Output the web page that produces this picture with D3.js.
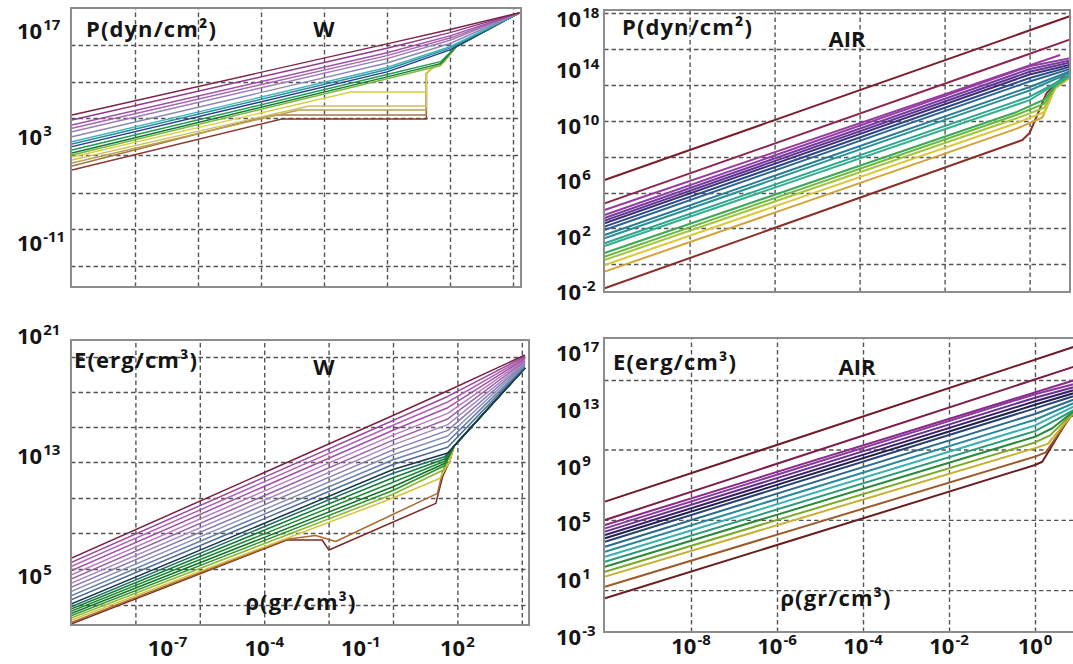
<!DOCTYPE html>
<html>
<head>
<meta charset="utf-8">
<script src="https://cdn.jsdelivr.net/npm/d3@7"></script>
<style>
  body { margin: 0; background: #ffffff; }
  svg text { font-family: "Open Sans", "DejaVu Sans", sans-serif; font-weight: 700; fill: #151515; }
</style>
</head>
<body>
<svg id="chart" width="1073" height="664"></svg>
<script>
// Every curve is a list of [log10(rho), log10(value)] vertices along one isotherm.

// ---- Tungsten (W): pressure, P(dyn/cm^2) ----
const wPressureCurves = [
  [[-10, 5.91], [0, 15.3], [2, 17.2], [4.2, 19.4]],
  [[-10, 5.25], [0, 14.72], [2, 16.78], [4.2, 19.4]],
  [[-10, 4.59], [0, 14.13], [2, 16.35], [4.2, 19.4]],
  [[-10, 4.15], [0, 13.75], [2, 16.07], [4.2, 19.4]],
  [[-10, 3.70], [0, 13.35], [2, 15.78], [4.2, 19.4]],
  [[-10, 3.04], [0, 12.77], [2, 15.35], [4.2, 19.4]],
  [[-10, 2.38], [0, 12.18], [2, 14.92], [4.2, 19.4]],
  [[-10, 2.08], [0, 11.92], [2, 14.73], [4.2, 19.4]],
  [[-10, 1.72], [0, 11.6], [2, 14.5], [4.2, 19.4]],
  [[-10, 1.28], [0, 11.25], [1.7, 12.95], [2.2, 14.95], [4.2, 19.4]],
  [[-10, 0.89], [0, 10.95], [1.7, 12.7], [2.2, 14.95], [4.2, 19.4]],
  [[-10, 0.62], [0, 10.7], [1.7, 12.45], [2.2, 14.95], [4.2, 19.4]],
  [[-10, 0.36], [-1.15, 8.94], [1.25, 8.94], [1.25, 11.4], [1.5, 12.3], [1.8, 12.9], [2.2, 14.95], [4.2, 19.4]],
  [[-10, -0.04], [-2.46, 7.1], [1.25, 7.1], [1.25, 11.4], [1.5, 12.3], [1.8, 12.9], [2.2, 14.95], [4.2, 19.4]],
  [[-10, -0.43], [-2.79, 6.57], [1.25, 6.57], [1.25, 11.4], [1.5, 12.3], [1.8, 12.9], [2.2, 14.95], [4.2, 19.4]],
  [[-10, -0.83], [-3.67, 5.91], [1.25, 5.91], [1.25, 11.4], [1.5, 12.3], [1.8, 12.9], [2.2, 14.95], [4.2, 19.4]],
  [[-10, -1.36], [-3.34, 5.38], [1.25, 5.38], [1.25, 11.4], [1.5, 12.3], [1.8, 12.9], [2.2, 14.95], [4.2, 19.4]]
];
const wPressureColors = [
  "#7b2346", "#8e3a8c", "#a24fa6", "#a865b0", "#9f7bb8", "#8a87b4", "#40b4bc", "#2a8a9a", "#1f3f8a",
  "#1f9a55", "#137a35", "#7ab83a", "#d8d040", "#cfc060", "#b8a050", "#a07840", "#8a3a30"
];
const wPressureTicks = [17, 3, -11];
const wPressureGrid = [15.15, 10.27, 5.51, 0.62, -4.4, -9.15, -14.04];

// ---- Air: pressure, P(dyn/cm^2) ----
const airPressureCurves = [
  [[-10, 6.09], [1.0, 17.97]],
  [[-10, 4.40], [1.0, 16.28]],
  [[-10, 3.92], [0.72, 15.11]],
  [[-10, 3.56], [0, 14.3], [1.0, 14.9]],
  [[-10, 3.34], [0, 14.1], [1.0, 14.75]],
  [[-10, 3.15], [0, 13.9], [1.0, 14.6]],
  [[-10, 2.96], [0, 13.7], [1.0, 14.45]],
  [[-10, 2.72], [0, 13.45], [1.0, 14.3]],
  [[-10, 2.48], [0, 13.2], [1.0, 14.15]],
  [[-10, 2.12], [0, 12.8], [1.0, 14.0]],
  [[-10, 1.88], [0, 12.55], [1.0, 13.9]],
  [[-10, 1.52], [0, 12.1], [0.5, 12.9], [1.0, 13.8]],
  [[-10, 1.32], [0, 11.85], [0.5, 12.8], [1.0, 13.75]],
  [[-10, 0.82], [-0.3, 11.0], [0.35, 11.9], [0.6, 12.9], [1.0, 13.7]],
  [[-10, 0.55], [-0.3, 10.8], [0.35, 11.6], [0.6, 12.85], [1.0, 13.7]],
  [[-10, 0.31], [-0.3, 10.55], [0.35, 11.3], [0.6, 12.8], [1.0, 13.65]],
  [[-10, -0.05], [-0.3, 10.2], [0.35, 11.0], [0.6, 12.75], [1.0, 13.65]],
  [[-10, -0.53], [-0.3, 9.8], [0.3, 10.6], [0.6, 12.7], [1.0, 13.6]],
  [[-10, -1.73], [-0.17, 8.97], [0, 9.48], [0.4, 12.37], [0.78, 13.5], [1.0, 13.6]]
];
const airPressureColors = [
  "#7a1e2e", "#8a2550", "#9a3a9e", "#8e40a6", "#7a3aa0", "#5e3590", "#3f2f78", "#2e4a86", "#2d6590",
  "#2a7d95", "#2a9198", "#2aa596", "#35b08a", "#3ea85a", "#6ab83e", "#a3c63a", "#d8c83a", "#d4a23a", "#8a3028"
];
const airPressureTicks = [18, 14, 10, 6, 2, -2];
const airPressureGrid = [18.14, 15.55, 12.95, 10.35, 7.75, 5.15, 2.62, 0.02];

// ---- Tungsten (W): internal energy, E(erg/cm^3) ----
const wEnergyCurves = [
  [[-10, 6.18], [0, 15.7], [1.7, 17.35], [4.1, 19.73]],
  [[-10, 5.90], [0, 15.37], [1.7, 16.97], [4.1, 19.65]],
  [[-10, 5.63], [0, 15.05], [1.7, 16.6], [4.1, 19.57]],
  [[-10, 5.35], [0, 14.72], [1.7, 16.22], [4.1, 19.5]],
  [[-10, 5.07], [0, 14.39], [1.7, 15.84], [4.1, 19.42]],
  [[-10, 4.79], [0, 14.06], [1.7, 15.47], [4.1, 19.34]],
  [[-10, 4.52], [0, 13.74], [1.7, 15.09], [4.1, 19.26]],
  [[-10, 4.24], [0, 13.41], [1.7, 14.71], [4.1, 19.18]],
  [[-10, 3.96], [0, 13.08], [1.7, 14.33], [4.1, 19.11]],
  [[-10, 3.68], [0, 12.75], [1.7, 13.96], [4.1, 19.03]],
  [[-10, 3.41], [0, 12.43], [1.7, 13.58], [4.1, 18.95]],
  [[-10, 3.13], [0, 12.1], [1.7, 13.2], [4.1, 18.87]],
  [[-10, 2.95], [0, 11.85], [1.6, 12.95], [1.9, 13.67], [4.1, 18.87]],
  [[-10, 2.80], [0, 11.55], [1.6, 12.8], [1.9, 13.67], [4.1, 18.87]],
  [[-10, 2.65], [0, 11.25], [1.6, 12.65], [1.9, 13.67], [4.1, 18.87]],
  [[-10, 2.50], [0, 10.95], [1.6, 12.5], [1.9, 13.67], [4.1, 18.87]],
  [[-10, 2.35], [0, 10.7], [1.6, 12.35], [1.9, 13.67], [4.1, 18.87]],
  [[-10, 2.20], [0, 10.45], [1.55, 12.05], [1.9, 13.67], [4.1, 18.87]],
  [[-10, 2.05], [0, 10.2], [1.45, 11.5], [1.75, 12.6], [1.9, 13.67], [4.1, 18.87]],
  [[-10, 1.90], [-3.3, 7.45], [-2.4, 7.7], [-1.78, 7.3], [1.38, 10.51], [1.54, 11.95], [1.75, 12.6], [1.9, 13.67], [4.1, 18.87]],
  [[-10, 1.80], [-3.3, 7.4], [-2.2, 7.4], [-1.99, 6.73], [1.33, 9.84], [1.54, 11.62], [1.75, 12.6], [1.9, 13.67], [4.1, 18.87]]
];
const wEnergyColors = [
  "#7a2040", "#9a4aa0", "#b060b0", "#a050a8", "#b878c0", "#9a60a8", "#a888c0", "#8a7ab0", "#8890b8",
  "#6a80a8", "#4a6a98", "#163650", "#1f6e62", "#137a35", "#1a8a30", "#0f7028", "#2a9228", "#8ab832",
  "#d4c43a", "#a86a32", "#7a2a22"
];
const wEnergyTicks = [21, 13, 5];
const wEnergyGrid = [19.6, 17.27, 14.93, 12.6, 10.2, 7.87, 5.47, 3.07];

// ---- Air: internal energy, E(erg/cm^3) ----
const airEnergyCurves = [
  [[-10, 6.53], [1.15, 17.68]],
  [[-10, 5.24], [1.15, 16.28]],
  [[-10, 4.89], [1.15, 15.3]],
  [[-10, 4.65], [0, 14.1], [1.15, 15.0]],
  [[-10, 4.42], [0, 13.85], [1.15, 14.8]],
  [[-10, 4.18], [0, 13.6], [1.15, 14.6]],
  [[-10, 3.95], [0, 13.35], [1.15, 14.4]],
  [[-10, 3.71], [0, 13.1], [1.15, 14.2]],
  [[-10, 3.36], [0, 12.7], [1.15, 14.0]],
  [[-10, 3.00], [0, 12.3], [1.15, 13.8]],
  [[-10, 2.65], [0, 11.9], [1.15, 13.6]],
  [[-10, 2.30], [0, 11.5], [0.5, 12.3], [1.15, 13.4]],
  [[-10, 1.95], [0, 11.1], [0.4, 11.7], [0.9, 12.9], [1.15, 13.3]],
  [[-10, 1.60], [0, 10.7], [0.35, 11.2], [0.9, 12.85], [1.15, 13.2]],
  [[-10, 1.25], [0, 10.3], [0.3, 10.6], [0.9, 12.8], [1.15, 13.1]],
  [[-10, 0.54], [0, 9.7], [0.25, 10.0], [0.85, 12.6], [1.15, 13.0]],
  [[-10, -0.27], [0, 9.11], [0.17, 9.34], [0.8, 12.5], [1.15, 12.9]]
];
const airEnergyColors = [
  "#6e1a2a", "#7a1e4a", "#8a2a8a", "#8a3a9e", "#6a3090", "#3a1e6a", "#1e2050", "#2a4070", "#2a6a8a",
  "#2a8a9a", "#3ab0b0", "#2a9a7a", "#2a8a3a", "#7aaa2a", "#c8b030", "#9a5a2a", "#6a1e1e"
];
const airEnergyTicks = [17, 13, 9, 5, 1, -3];
const airEnergyGrid = [15.1, 10.2, 5.25, 0.3];

// ---- density axes, log10(rho) ----
const wDensityTicks = [-7, -4, -1, 2];
const wDensityGrid = [-8, -6, -4, -2, 0, 2, 4];
const airDensityTicks = [-8, -6, -4, -2, 0];
const airDensityGrid = [-8, -6, -4, -2, 0];

const svg = d3.select("#chart");

// "10" followed by a raised exponent
function powerLabel(sel, exp) {
  sel.append("tspan").text("10");
  sel.append("tspan").attr("dy", -9).attr("dx", 1).attr("font-size", 15).text(String(exp));
}

function drawPanel(p) {
  const x = d3.scaleLinear().domain(p.xDom).range(p.xRange);
  const y = d3.scaleLinear().domain(p.yDom).range(p.yRange);
  const [x0, y0, x1, y1] = p.box;
  const g = svg.append("g");

  svg.append("clipPath").attr("id", "clip-" + p.id)
    .append("rect").attr("x", x0).attr("y", y0).attr("width", x1 - x0).attr("height", y1 - y0);

  const styleGrid = a => {
    a.select(".domain").remove();
    a.selectAll(".tick line")
      .attr("stroke", "#555").attr("stroke-width", 1.4).attr("stroke-dasharray", "4.5,3");
  };
  g.append("g").attr("transform", `translate(0,${y1})`)
    .call(d3.axisBottom(x).tickValues(p.xGrid).tickSize(-(y1 - y0)).tickFormat(""))
    .call(styleGrid);
  g.append("g").attr("transform", `translate(${x0},0)`)
    .call(d3.axisLeft(y).tickValues(p.yGrid).tickSize(-(x1 - x0)).tickFormat(""))
    .call(styleGrid);

  // lower isotherms first so the hotter ones sit on top where paths coincide
  const line = d3.line().x(d => x(d[0])).y(d => y(d[1]));
  const order = p.curves.map((c, i) => i).reverse();
  g.append("g").attr("clip-path", `url(#clip-${p.id})`)
    .selectAll("path").data(order).join("path")
    .attr("d", i => line(p.curves[i]))
    .attr("fill", "none")
    .attr("stroke", i => p.colors[i])
    .attr("stroke-width", p.lw)
    .attr("stroke-linejoin", "round");

  g.append("rect").attr("x", x0).attr("y", y0).attr("width", x1 - x0).attr("height", y1 - y0)
    .attr("fill", "none").attr("stroke", "#8c8c8c").attr("stroke-width", 2);

  // exponent labels sit beside their value; the topmost one is kept inside the page
  g.selectAll("text.ylab").data(p.yTicks).join("text").attr("class", "ylab")
    .attr("x", p.yLabelX).attr("y", d => Math.max(y(d) + 8, 27)).attr("font-size", 22)
    .each(function (d) { powerLabel(d3.select(this), d); });

  g.selectAll("text.xlab").data(p.xTicks).join("text").attr("class", "xlab")
    .attr("x", d => x(d)).attr("y", p.xLabelY).attr("font-size", 22).attr("text-anchor", "middle")
    .each(function (d) { powerLabel(d3.select(this), d); });

  p.titles.forEach(t => {
    g.append("text").attr("x", t.x).attr("y", t.y).attr("font-size", 22)
      .attr("letter-spacing", t.spacing).attr("text-anchor", t.anchor).text(t.text);
  });
}

const panels = [
  { id: "wp", curves: wPressureCurves, colors: wPressureColors, lw: 1.4,
    xDom: [-10, 4], xRange: [72, 513], yDom: [-11, 17], yRange: [243, 31],
    box: [71, 8, 521, 287], xGrid: wDensityGrid, yGrid: wPressureGrid,
    yTicks: wPressureTicks, yLabelX: 17, xTicks: [], xLabelY: 0,
    titles: [{ text: "P(dyn/cm²)", x: 86, y: 37, anchor: "start", spacing: 1.1 },
             { text: "W", x: 324, y: 37, anchor: "middle", spacing: 0 }] },
  { id: "ap", curves: airPressureCurves, colors: airPressureColors, lw: 2,
    xDom: [-10, 0], xRange: [604.6, 1029.6], yDom: [-2, 18], yRange: [292, 15],
    box: [604, 10, 1070, 292], xGrid: airDensityGrid, yGrid: airPressureGrid,
    yTicks: airPressureTicks, yLabelX: 556, xTicks: [], xLabelY: 0,
    titles: [{ text: "P(dyn/cm²)", x: 622, y: 35, anchor: "start", spacing: 1.1 },
             { text: "AIR", x: 847, y: 47, anchor: "middle", spacing: 0 }] },
  { id: "we", curves: wEnergyCurves, colors: wEnergyColors, lw: 1.5,
    xDom: [-10, 4], xRange: [71, 521.8], yDom: [5, 21], yRange: [576, 336],
    box: [71, 340, 529, 625], xGrid: wDensityGrid, yGrid: wEnergyGrid,
    yTicks: wEnergyTicks, yLabelX: 17, xTicks: wDensityTicks, xLabelY: 656,
    titles: [{ text: "E(erg/cm³)", x: 74, y: 368, anchor: "start", spacing: 1.1 },
             { text: "W", x: 324, y: 375, anchor: "middle", spacing: 0 },
             { text: "ρ(gr/cm³)", x: 301, y: 610, anchor: "middle", spacing: 1.1 }] },
  { id: "ae", curves: airEnergyCurves, colors: airEnergyColors, lw: 2,
    xDom: [-10, 0], xRange: [605, 1035], yDom: [-3, 17], yRange: [637, 353],
    box: [604, 338, 1085, 632], xGrid: airDensityGrid, yGrid: airEnergyGrid,
    yTicks: airEnergyTicks, yLabelX: 556, xTicks: airDensityTicks, xLabelY: 654,
    titles: [{ text: "E(erg/cm³)", x: 613, y: 370, anchor: "start", spacing: 1.1 },
             { text: "AIR", x: 857, y: 375, anchor: "middle", spacing: 0 },
             { text: "ρ(gr/cm³)", x: 836, y: 606, anchor: "middle", spacing: 1.1 }] }
];

panels.forEach(drawPanel);
</script>
</body>
</html>
